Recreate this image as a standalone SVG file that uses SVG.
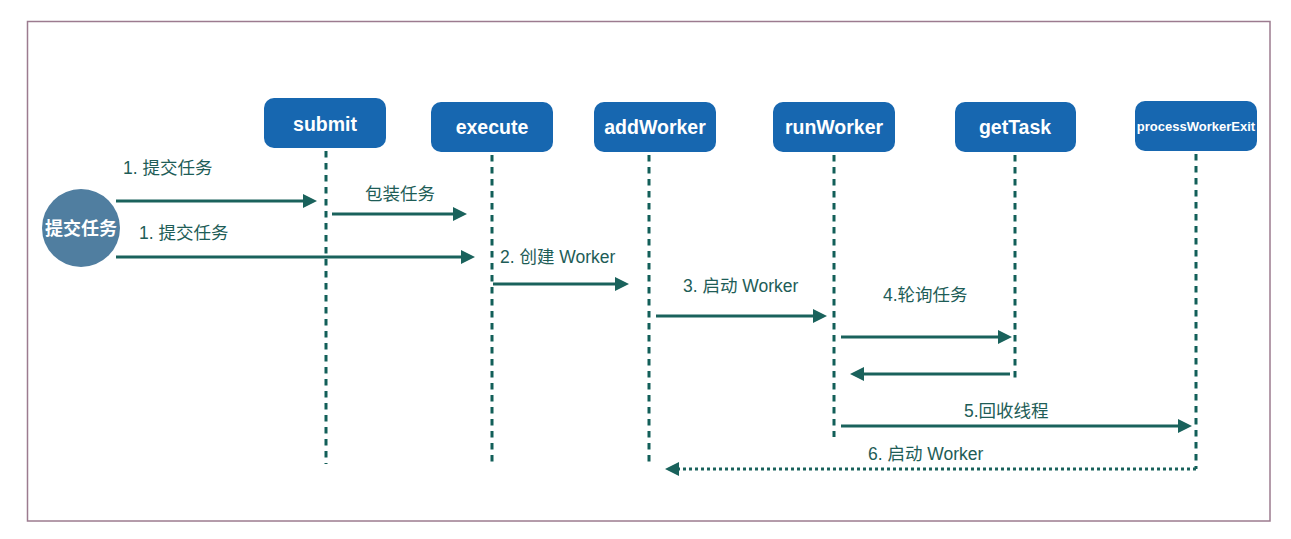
<svg xmlns="http://www.w3.org/2000/svg" width="1291" height="539" viewBox="0 0 1291 539">
<style>
.node rect{fill:#1767b0;}
.node text{fill:#ffffff;font-family:"Liberation Sans","Noto Sans CJK SC",sans-serif;font-weight:bold;font-size:19.5px;text-anchor:middle;}
.life{stroke:#125f59;stroke-width:3;stroke-dasharray:6.5 5.5;fill:none;}
.msg{stroke:#1a625c;stroke-width:3;fill:none;marker-end:url(#ah);}
.dot{stroke:#1a625c;stroke-width:3;fill:none;stroke-dasharray:3 3;marker-end:url(#ah);}
.lbl{fill:#1e5d57;font-family:"Liberation Sans","Noto Sans CJK SC",sans-serif;font-size:17.5px;}
</style>
<defs>
<marker id="ah" markerWidth="14" markerHeight="14" refX="6" refY="7" orient="auto" markerUnits="userSpaceOnUse">
<path d="M0,0 L14,7 L0,14 z" fill="#1a625c"/>
</marker>
</defs>
<rect x="0" y="0" width="1291" height="539" fill="#ffffff"/>
<rect id="frame" x="27.5" y="21.5" width="1242.5" height="499.5" fill="none" stroke="#9c7b8f" stroke-width="1.5"/>

<g id="actor">
<circle cx="81" cy="228" r="39" fill="#507ea0"/>
<text x="81" y="235" fill="#ffffff" font-family="Liberation Sans,Noto Sans CJK SC,sans-serif" font-weight="bold" font-size="18" text-anchor="middle">提交任务</text>
</g>

<g id="submit" class="node"><rect x="264" y="98" width="122" height="50" rx="10"/><text x="325" y="131">submit</text></g>
<g id="execute" class="node"><rect x="431" y="102" width="122" height="50" rx="10"/><text x="492" y="134">execute</text></g>
<g id="addWorker" class="node"><rect x="594" y="102" width="122" height="50" rx="10"/><text x="655" y="134">addWorker</text></g>
<g id="runWorker" class="node"><rect x="773" y="102" width="122" height="50" rx="10"/><text x="834" y="134">runWorker</text></g>
<g id="getTask" class="node"><rect x="955" y="102" width="121" height="50" rx="10"/><text x="1015" y="134">getTask</text></g>
<g id="processWorkerExit" class="node"><rect x="1135" y="101" width="122" height="50" rx="10"/><text x="1196" y="131" style="font-size:13px">processWorkerExit</text></g>

<g id="connectors">
<line class="life" x1="326" y1="151" x2="326" y2="464"/>
<line class="life" x1="492" y1="155" x2="492" y2="467"/>
<line class="life" x1="649" y1="155" x2="649" y2="467"/>
<line class="life" x1="834" y1="155" x2="834" y2="437"/>
<line class="life" x1="1015" y1="155" x2="1015" y2="379"/>
<line class="life" x1="1196" y1="154" x2="1196" y2="469"/>

<line class="msg" x1="116" y1="201" x2="309" y2="201"/>
<line class="msg" x1="332" y1="214" x2="459" y2="214"/>
<line class="msg" x1="116" y1="257" x2="467" y2="257"/>
<line class="msg" x1="493" y1="284" x2="621" y2="284"/>
<line class="msg" x1="656" y1="316" x2="819" y2="316"/>
<line class="msg" x1="841" y1="337" x2="1004" y2="337"/>
<line class="msg" x1="1010" y1="374" x2="858" y2="374"/>
<line class="msg" x1="841" y1="426" x2="1184" y2="426"/>
<line class="dot" x1="1196" y1="469" x2="673" y2="469"/>

<text class="lbl" x="123" y="174">1. 提交任务</text>
<text class="lbl" x="365" y="200">包装任务</text>
<text class="lbl" x="139" y="239">1. 提交任务</text>
<text class="lbl" x="500" y="263">2. 创建 Worker</text>
<text class="lbl" x="683" y="292">3. 启动 Worker</text>
<text class="lbl" x="883" y="301">4.轮询任务</text>
<text class="lbl" x="964" y="417">5.回收线程</text>
<text class="lbl" x="868" y="460">6. 启动 Worker</text>
</g>
</svg>
